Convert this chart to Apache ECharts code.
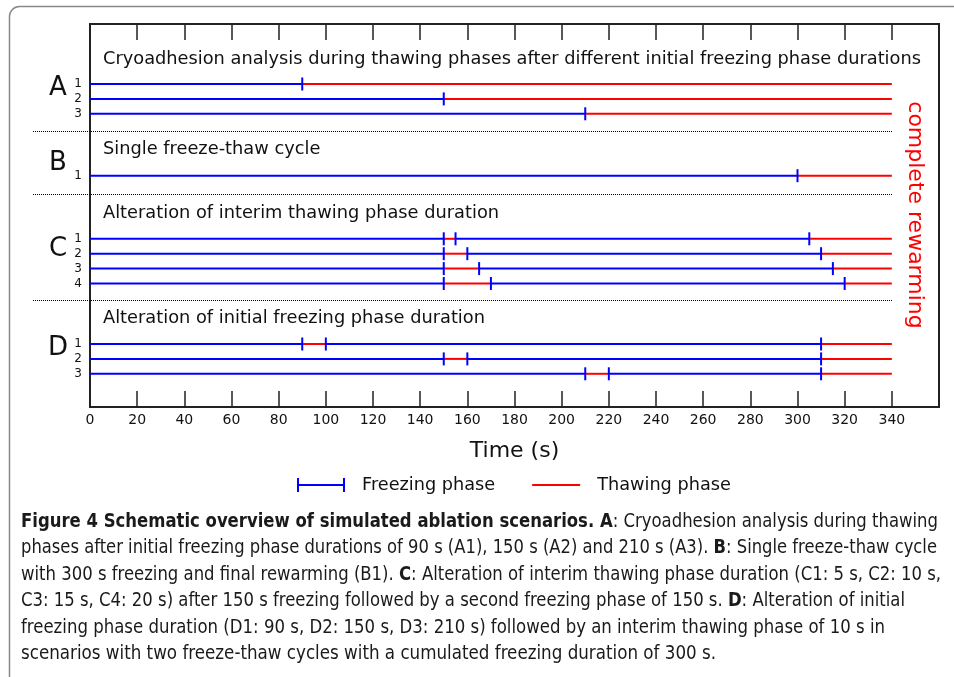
<!DOCTYPE html>
<html><head><meta charset="utf-8">
<script src="https://cdn.jsdelivr.net/npm/echarts@6/dist/echarts.min.js"></script>
<style>html,body{margin:0;padding:0;background:#fff}#c{width:954px;height:677px}</style>
</head><body><div id="c"></div>
<script>
// ================= DATA =================
const groupLetters = ['A', 'B', 'C', 'D'];
const groupTitles = [
  'Cryoadhesion analysis during thawing phases after different initial freezing phase durations',
  'Single freeze-thaw cycle',
  'Alteration of interim thawing phase duration',
  'Alteration of initial freezing phase duration'
];
const scenarioGroup  = [0, 0, 0, 1, 2, 2, 2, 2, 3, 3, 3];
const scenarioNumber = ['1', '2', '3', '1', '1', '2', '3', '4', '1', '2', '3'];
const firstFreezeEnd    = [90, 150, 210, 300, 150, 150, 150, 150, 90, 150, 210];
const secondFreezeStart = [null, null, null, null, 155, 160, 165, 170, 100, 160, 220];
const secondFreezeEnd   = [null, null, null, null, 305, 310, 315, 320, 310, 310, 310];
const simulationEnd     = [340, 340, 340, 340, 340, 340, 340, 340, 340, 340, 340];
const timeTickLabels = [0, 20, 40, 60, 80, 100, 120, 140, 160, 180, 200, 220, 240, 260, 280, 300, 320, 340];
const xAxisTitle = 'Time (s)';
const sideNote = 'complete rewarming';
const legendNames = ['Freezing phase', 'Thawing phase'];
const captionLines = [
  '**Figure 4 Schematic overview of simulated ablation scenarios. A**: Cryoadhesion analysis during thawing',
  'phases after initial freezing phase durations of 90 s (A1), 150 s (A2) and 210 s (A3). **B**: Single freeze-thaw cycle',
  'with 300 s freezing and final rewarming (B1). **C**: Alteration of interim thawing phase duration (C1: 5 s, C2: 10 s,',
  'C3: 15 s, C4: 20 s) after 150 s freezing followed by a second freezing phase of 150 s. **D**: Alteration of initial',
  'freezing phase duration (D1: 90 s, D2: 150 s, D3: 210 s) followed by an interim thawing phase of 10 s in',
  'scenarios with two freeze-thaw cycles with a cumulated freezing duration of 300 s.'
];

// ================= LAYOUT (pixels) =================
const GRID = {left: 90, top: 24, width: 849, height: 383};
const groupFirstRowPx = [84, 175.7, 238.8, 344];
const rowStepPx = 14.9;
const titleCenterPx = [59, 149, 213.5, 318.5];
const letterCenterPx = [88, 163, 249, 348];
const separatorPx = [131.5, 194.5, 300.5];
const captionTop = 522, captionStep = 26.5, captionLeft = 21;
const captionRight = [938, 937, 941, 905, 885, 716];

// row y (in axis units = pixels below grid top)
const rowIdxInGroup = [];
{ const cnt = {}; scenarioGroup.forEach(g => { cnt[g] = (cnt[g] || 0); rowIdxInGroup.push(cnt[g]); cnt[g]++; }); }
const rowY = scenarioGroup.map((g, i) => groupFirstRowPx[g] + rowIdxInGroup[i] * rowStepPx - GRID.top);

// segments built from data
const freezeSegs = [], thawSegs = [], rowLabels = [];
scenarioGroup.forEach((g, i) => {
  const y = rowY[i];
  rowLabels.push([0, y, scenarioNumber[i]]);
  freezeSegs.push([0, firstFreezeEnd[i], y]);
  if (secondFreezeStart[i] != null) {
    thawSegs.push([firstFreezeEnd[i], secondFreezeStart[i], y]);
    freezeSegs.push([secondFreezeStart[i], secondFreezeEnd[i], y]);
    thawSegs.push([secondFreezeEnd[i], simulationEnd[i], y]);
  } else {
    thawSegs.push([firstFreezeEnd[i], simulationEnd[i], y]);
  }
});

const BLUE = '#0000ff', RED = '#ff0000', INK = '#111111';
const FONT = "'DejaVu Sans', sans-serif";

function renderFreeze(params, api) {
  const s = api.value(0), e = api.value(1), y = api.value(2);
  const p0 = api.coord([s, y]), p1 = api.coord([e, y]);
  const ch = [{type: 'line', shape: {x1: p0[0], y1: p0[1], x2: p1[0], y2: p1[1]}, style: {stroke: BLUE, lineWidth: 2}}];
  [[s, p0], [e, p1]].forEach(([t, p]) => {
    if (t > 0) ch.push({type: 'line', shape: {x1: p[0], y1: p[1] - 6.5, x2: p[0], y2: p[1] + 6.5}, style: {stroke: BLUE, lineWidth: 2}});
  });
  return {type: 'group', children: ch};
}
function renderThaw(params, api) {
  const s = api.value(0), e = api.value(1), y = api.value(2);
  const p0 = api.coord([s, y]), p1 = api.coord([e, y]);
  return {type: 'line', shape: {x1: p0[0], y1: p0[1], x2: p1[0], y2: p1[1]}, style: {stroke: RED, lineWidth: 2}};
}
function renderRowLabel(params, api) {
  const p = api.coord([api.value(0), api.value(1)]);
  return {type: 'text', style: {text: rowLabels[params.dataIndex][2], x: p[0] - 8, y: p[1], align: 'right', verticalAlign: 'middle', font: '12px ' + FONT, fill: INK}};
}

// caption with width matching
const capFamily = "'Liberation Sans Narrow','DejaVu Sans Condensed','Liberation Sans',sans-serif";
const capSize = 19;
const mctx = document.createElement('canvas').getContext('2d');
function parseLine(line) {
  const parts = line.split('**');
  return parts.map((t, k) => ({text: t, bold: k % 2 === 1})).filter(p => p.text.length);
}
const captionGraphics = captionLines.map((line, i) => {
  const segs = parseLine(line);
  let w = 0;
  segs.forEach(s => { mctx.font = (s.bold ? 'bold ' : '') + capSize + 'px ' + capFamily; w += mctx.measureText(s.text).width; });
  const scale = (captionRight[i] - captionLeft) / w;
  return {
    type: 'text', x: captionLeft, y: captionTop + i * captionStep, scaleX: scale, originX: 0,
    style: {
      text: segs.map(s => '{' + (s.bold ? 'b' : 'n') + '|' + s.text + '}').join(''),
      rich: {
        b: {fontFamily: capFamily, fontSize: capSize, fontWeight: 'bold', fill: '#1a1a1a', verticalAlign: 'middle'},
        n: {fontFamily: capFamily, fontSize: capSize, fill: '#1a1a1a', verticalAlign: 'middle'}
      },
      verticalAlign: 'middle', align: 'left'
    }
  };
});

const graphics = [
  {type: 'rect', shape: {x: 9.5, y: 6.5, width: 1000, height: 700, r: 10}, style: {stroke: '#888', lineWidth: 1.5, fill: null}, silent: true, z: -1},
  ...groupTitles.map((t, g) => ({type: 'text', x: 103, y: titleCenterPx[g], style: {text: t, font: '17.8px ' + FONT, fill: INK, verticalAlign: 'middle'}})),
  ...groupLetters.map((t, g) => ({type: 'text', x: 58, y: letterCenterPx[g], style: {text: t, font: '26px ' + FONT, fill: INK, align: 'center', verticalAlign: 'middle'}})),
  ...separatorPx.map(y => ({type: 'line', shape: {x1: 33, y1: y, x2: 892, y2: y}, style: {stroke: '#000', lineWidth: 1, lineDash: [1, 1]}})),
  {type: 'text', x: 915, y: 215, rotation: -Math.PI / 2, style: {text: sideNote, font: '22px ' + FONT, fill: RED, align: 'center', verticalAlign: 'middle'}},
  ...captionGraphics
];

const chart = echarts.init(document.getElementById('c'), null, {renderer: 'canvas'});
chart.setOption({
  animation: false,
  backgroundColor: '#fff',
  grid: {left: GRID.left, top: GRID.top, width: GRID.width, height: GRID.height, show: true, borderColor: '#222', borderWidth: 2, backgroundColor: 'transparent'},
  xAxis: [
    {type: 'value', min: 0, max: 360, interval: 20, position: 'bottom',
     name: xAxisTitle, nameLocation: 'middle', nameGap: 33, nameTextStyle: {fontFamily: 'DejaVu Sans', fontSize: 22, color: INK},
     axisLine: {show: false, onZero: false}, splitLine: {show: false},
     axisTick: {inside: true, length: 16, lineStyle: {color: '#222', width: 1.5}},
     axisLabel: {margin: 6, fontFamily: 'DejaVu Sans', fontSize: 14, color: INK,
       formatter: v => timeTickLabels.indexOf(v) >= 0 ? String(v) : ''}},
    {type: 'value', min: 0, max: 360, interval: 20, position: 'top',
     axisLine: {show: false, onZero: false}, splitLine: {show: false}, axisLabel: {show: false},
     axisTick: {inside: true, length: 16, lineStyle: {color: '#222', width: 1.5}}}
  ],
  yAxis: {type: 'value', min: 0, max: GRID.height, inverse: true, show: false},
  legend: {
    left: 297, top: 476, padding: 0, itemWidth: 48, itemHeight: 14, itemGap: 37, selectedMode: false,
    symbolKeepAspect: true,
    textStyle: {fontFamily: 'DejaVu Sans', fontSize: 17.7, color: INK, padding: [0, 0, 0, 12]},
    itemStyle: {borderWidth: 0},
    data: [
      {name: legendNames[0], icon: 'path://M0,0H2V6H46V0H48V14H46V8H2V14H0Z'},
      {name: legendNames[1], icon: 'path://M0,0H48V2H0Z'}
    ]
  },
  series: [
    {type: 'custom', name: legendNames[1], renderItem: renderThaw, data: thawSegs, itemStyle: {color: RED}, z: 2, silent: true},
    {type: 'custom', name: legendNames[0], renderItem: renderFreeze, data: freezeSegs, itemStyle: {color: BLUE}, z: 3, silent: true},
    {type: 'custom', name: 'rows', renderItem: renderRowLabel, data: rowLabels, z: 3, silent: true}
  ],
  graphic: graphics
});
</script></body></html>
